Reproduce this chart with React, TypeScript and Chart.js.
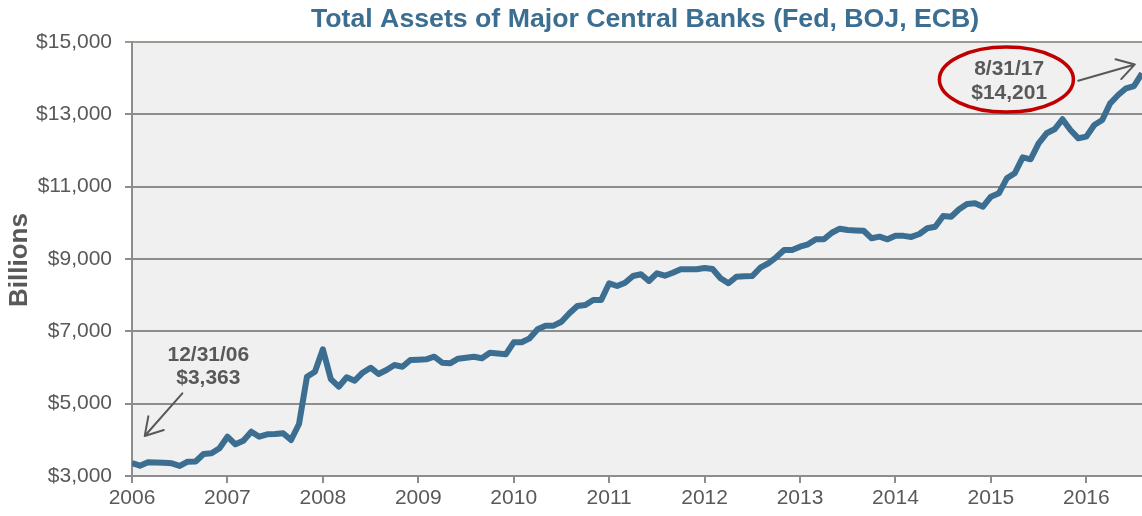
import { useEffect, useRef } from "react";
import { Chart, registerables } from "chart.js";

Chart.register(...registerables);

const TITLE = "Total Assets of Major Central Banks (Fed, BOJ, ECB)";
const Y_TITLE = "Billions";
const YEAR_LABELS = [2006, 2007, 2008, 2009, 2010, 2011, 2012, 2013, 2014, 2015, 2016];
const MONTHS_PER_YEAR = 12;
const Y_MIN = 3000;
const Y_MAX = 15000;
const Y_STEP = 2000;

// Monthly total assets (billions USD)
const ASSETS = [
  3360, 3285, 3378, 3372, 3368, 3350, 3280, 3396, 3400, 3608, 3627, 3766,
  4087, 3876, 3976, 4225, 4087, 4152, 4160, 4180, 3995, 4438, 5746, 5884,
  6503, 5680, 5469, 5729, 5635, 5856, 5994, 5820, 5931, 6069, 6022, 6207,
  6215, 6227, 6299, 6133, 6116, 6243, 6270, 6299, 6254, 6409, 6390, 6365,
  6697, 6697, 6807, 7056, 7156, 7156, 7266, 7499, 7700, 7728, 7866, 7866,
  8328, 8254, 8345, 8530, 8577, 8392, 8605, 8538, 8621, 8715, 8715, 8715,
  8751, 8724, 8470, 8328, 8511, 8520, 8530, 8759, 8881, 9047, 9249, 9249,
  9340, 9406, 9545, 9545, 9727, 9838, 9802, 9790, 9782, 9572, 9617, 9545,
  9644, 9640, 9610, 9690, 9850, 9893, 10189, 10170, 10374, 10521, 10540, 10446,
  10723, 10817, 11231, 11370, 11812, 11757, 12199, 12476, 12586, 12863, 12567, 12337,
  12382, 12705, 12843, 13305, 13535, 13720, 13783, 14135,
];

// Annotations (positions in data space: month index, value)
const START_NOTE_LINES = ["12/31/06", "$3,363"];
const START_NOTE_POS = { x: 9.6, y1: 6180, y2: 5544 };
const START_ARROW = { x0: 6.33, y0: 5287, x1: 1.6, y1: 4106 };
const END_NOTE_LINES = ["8/31/17", "$14,201"];
const END_NOTE_POS = { x: 110.3, y1: 14088, y2: 13416 };
const END_ELLIPSE = { x: 109.95, y: 13960 };
const END_ARROW = { x0: 118.98, y0: 13930, x1: 126.1, y1: 14380 };

const FONT = '"Liberation Sans", Arial, Helvetica, sans-serif';
const TEXT_GRAY = "#595959";
const BLUE = "#3b6e91";
const GRID = "#8d8d8d";

function drawArrow(ctx: CanvasRenderingContext2D, x0: number, y0: number, x1: number, y1: number) {
  const ang = Math.atan2(y0 - y1, x0 - x1);
  const len = 20;
  const spread = (31 * Math.PI) / 180;
  ctx.save();
  ctx.strokeStyle = TEXT_GRAY;
  ctx.lineWidth = 2;
  ctx.lineCap = "round";
  ctx.lineJoin = "round";
  ctx.beginPath();
  ctx.moveTo(x0, y0);
  ctx.lineTo(x1, y1);
  ctx.moveTo(x1 + len * Math.cos(ang - spread), y1 + len * Math.sin(ang - spread));
  ctx.lineTo(x1, y1);
  ctx.lineTo(x1 + len * Math.cos(ang + spread), y1 + len * Math.sin(ang + spread));
  ctx.stroke();
  ctx.restore();
}

const decorPlugin = {
  id: "decor",
  beforeDraw(chart: any) {
    const { ctx, chartArea } = chart;
    ctx.save();
    ctx.fillStyle = "#f0f0f0";
    ctx.fillRect(chartArea.left, chartArea.top, chartArea.right - chartArea.left, chartArea.bottom - chartArea.top);
    ctx.restore();
  },
  afterDraw(chart: any) {
    const { ctx, chartArea } = chart;
    const xs = chart.scales.x;
    const ys = chart.scales.y;
    ctx.save();
    // Title
    ctx.fillStyle = BLUE;
    ctx.font = `bold 26.7px ${FONT}`;
    ctx.textAlign = "center";
    ctx.textBaseline = "alphabetic";
    ctx.fillText(TITLE, chartArea.left + (chartArea.right - chartArea.left) * 0.508, 27);

    // Y title
    ctx.save();
    ctx.translate(27, (chartArea.top + chartArea.bottom) / 2 + 1);
    ctx.rotate(-Math.PI / 2);
    ctx.fillStyle = TEXT_GRAY;
    ctx.font = `bold 26px ${FONT}`;
    ctx.textAlign = "center";
    ctx.fillText(Y_TITLE, 0, 0);
    ctx.restore();

    // Notes
    ctx.fillStyle = TEXT_GRAY;
    ctx.font = `bold 21px ${FONT}`;
    ctx.textAlign = "center";
    ctx.fillText(START_NOTE_LINES[0], xs.getPixelForValue(START_NOTE_POS.x), ys.getPixelForValue(START_NOTE_POS.y1));
    ctx.fillText(START_NOTE_LINES[1], xs.getPixelForValue(START_NOTE_POS.x), ys.getPixelForValue(START_NOTE_POS.y2));
    drawArrow(
      ctx,
      xs.getPixelForValue(START_ARROW.x0),
      ys.getPixelForValue(START_ARROW.y0),
      xs.getPixelForValue(START_ARROW.x1),
      ys.getPixelForValue(START_ARROW.y1)
    );

    ctx.fillStyle = TEXT_GRAY;
    ctx.font = `bold 21px ${FONT}`;
    ctx.fillText(END_NOTE_LINES[0], xs.getPixelForValue(END_NOTE_POS.x), ys.getPixelForValue(END_NOTE_POS.y1));
    ctx.fillText(END_NOTE_LINES[1], xs.getPixelForValue(END_NOTE_POS.x), ys.getPixelForValue(END_NOTE_POS.y2));

    ctx.beginPath();
    ctx.ellipse(xs.getPixelForValue(END_ELLIPSE.x), ys.getPixelForValue(END_ELLIPSE.y), 67, 32.5, 0, 0, Math.PI * 2);
    ctx.strokeStyle = "#c00000";
    ctx.lineWidth = 3.5;
    ctx.stroke();

    drawArrow(
      ctx,
      xs.getPixelForValue(END_ARROW.x0),
      ys.getPixelForValue(END_ARROW.y0),
      xs.getPixelForValue(END_ARROW.x1),
      ys.getPixelForValue(END_ARROW.y1)
    );
    ctx.restore();
  },
};

export default function App() {
  const ref = useRef<HTMLCanvasElement | null>(null);

  useEffect(() => {
    if (!ref.current) return;
    const points = ASSETS.map((v, i) => ({ x: i, y: v }));
    const chart = new Chart(ref.current, {
      type: "line",
      data: {
        datasets: [
          {
            data: points,
            borderColor: BLUE,
            borderWidth: 6,
            pointRadius: 0,
            pointHoverRadius: 0,
            tension: 0,
            borderJoinStyle: "round",
            fill: false,
          },
        ],
      },
      options: {
        responsive: false,
        animation: false,
        events: [],
        layout: { padding: { top: 42, right: 0, left: 0, bottom: 0 } },
        plugins: {
          legend: { display: false },
          tooltip: { enabled: false },
          title: { display: false },
        },
        scales: {
          x: {
            type: "linear",
            min: 0,
            max: ASSETS.length - 1,
            afterBuildTicks: (scale: any) => {
              scale.ticks = YEAR_LABELS.map((_, k) => ({ value: k * MONTHS_PER_YEAR }));
            },
            afterFit: (scale: any) => {
              scale.height = 40;
            },
            grid: {
              display: true,
              drawOnChartArea: false,
              drawTicks: true,
              tickLength: 7,
              color: GRID,
              lineWidth: 2,
            },
            border: { display: true, color: GRID, width: 2 },
            ticks: {
              autoSkip: false,
              maxRotation: 0,
              padding: 3,
              color: TEXT_GRAY,
              font: { family: FONT, size: 21 },
              callback: (v: any) => String(YEAR_LABELS[0] + Math.round(Number(v) / MONTHS_PER_YEAR)),
            },
          },
          y: {
            type: "linear",
            min: Y_MIN,
            max: Y_MAX,
            afterFit: (scale: any) => {
              scale.width = 132;
            },
            grid: {
              display: true,
              drawOnChartArea: true,
              drawTicks: true,
              tickLength: 7,
              color: (c: any) => (c.tick && c.tick.value === Y_MAX ? "#9a9c92" : GRID),
              lineWidth: 2,
            },
            border: { display: true, color: GRID, width: 2 },
            ticks: {
              stepSize: Y_STEP,
              padding: 13,
              color: TEXT_GRAY,
              font: { family: FONT, size: 21 },
              callback: (v: any) => "$" + Number(v).toLocaleString("en-US"),
            },
          },
        },
      },
      plugins: [decorPlugin],
    });
    return () => chart.destroy();
  }, []);

  return (
    <div style={{ position: "fixed", left: 0, top: 0, width: 1142, height: 516, background: "#fff" }}>
      <canvas ref={ref} width={1142} height={516} style={{ display: "block" }} />
    </div>
  );
}
